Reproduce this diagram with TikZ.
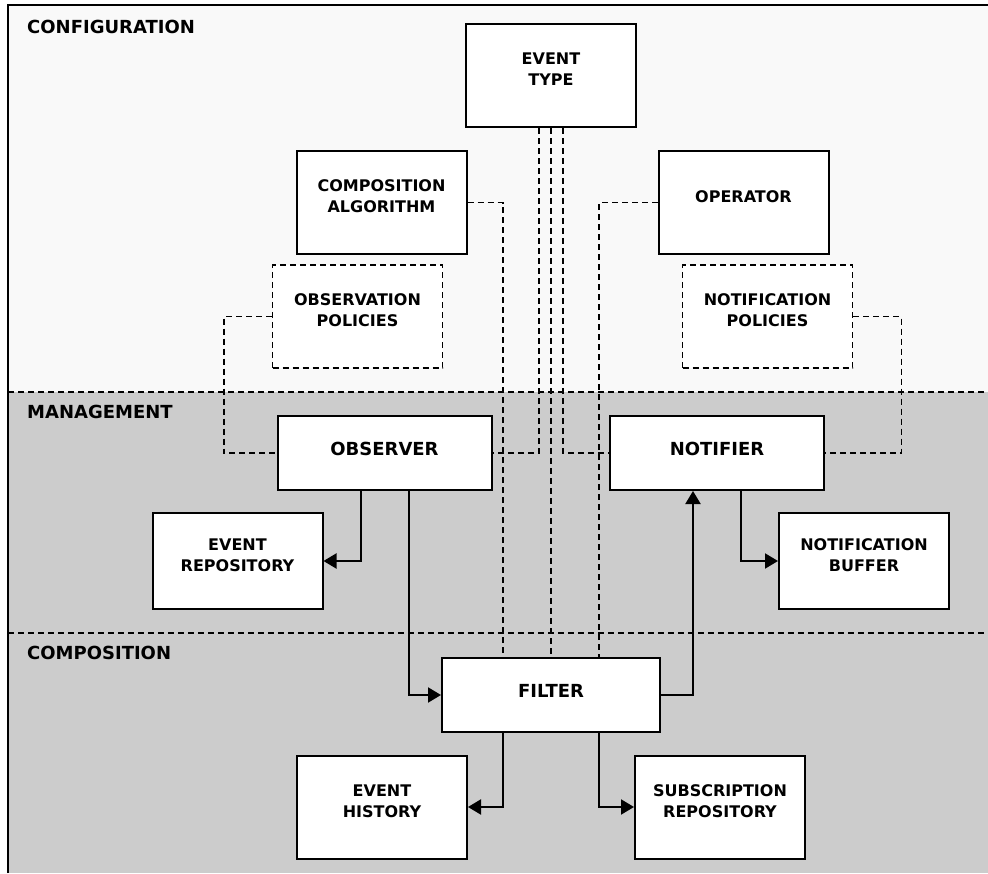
\documentclass[tikz,border=0pt]{standalone}
\usepackage{fontspec}
\setmainfont{DejaVu Sans}
\definecolor{cPane}{HTML}{F9F9F9}
\definecolor{cBand}{HTML}{CCCCCC}
\usetikzlibrary{positioning,arrows.meta,calc}

\begin{document}
\begin{tikzpicture}[x=1pt,y=-1pt,
      unit/.style={draw,fill=white,line width=2pt,minimum width=170pt,minimum height=103pt,
                   align=center,text depth=12pt,font=\fontsize{16}{21}\selectfont\bfseries},
      policy/.style={unit,line width=1.6pt,dash pattern=on 6pt off 4pt},
      core/.style={unit,minimum width=214pt,minimum height=74pt,text depth=9pt,
                   font=\fontsize{18}{22}\selectfont\bfseries},
      layer/.style={anchor=base west,inner sep=0pt,font=\fontsize{18}{22}\selectfont\bfseries},
      cfglink/.style={line width=1.6pt,dash pattern=on 6pt off 4pt},
      flow/.style={line width=2pt,-{Triangle[length=13pt,width=15pt]}}]
    \useasboundingbox (0,0) rectangle (988,873);
    % layer bands
    \fill[cPane] (8,5) rectangle (988,392);
    \fill[cBand] (8,392) rectangle (988,873);
    \draw[line width=2pt] (8,873) -- (8,5) -- (988,5);
    \foreach \y in {392,633}
      \draw[cfglink] (8,\y) -- (988,\y);
    \foreach \y/\t in {33/CONFIGURATION,418/MANAGEMENT,659/COMPOSITION}
      \node[layer] (lay\y) at (27,\y) {\t};
    % configuration
    \node[unit]   (evtype)   at (551,75.5)    {EVENT\\TYPE};
    \node[unit]   (compalg)  at (381.5,202.5) {COMPOSITION\\ALGORITHM};
    \node[unit]   (operator) at (743.5,202.5) {OPERATOR};
    \node[policy] (obspol)   at (357.5,316.5) {OBSERVATION\\POLICIES};
    \node[policy] (notpol)   at (767.5,316.5) {NOTIFICATION\\POLICIES};
    % management
    \node[core] (observer) at (384.5,453) {OBSERVER};
    \node[core] (notifier) at (717,453)   {NOTIFIER};
    \node[unit,minimum height=96pt] (evrepo) at (237.5,561) {EVENT\\REPOSITORY};
    \node[unit,minimum height=96pt] (notbuf) at (864,561)   {NOTIFICATION\\BUFFER};
    % composition
    \node[core,minimum width=218pt] (filter) at (551,695) {FILTER};
    \node[unit] (evhist)  at (382,807) {EVENT\\HISTORY};
    \node[unit] (subrepo) at (720,807) {SUBSCRIPTION\\REPOSITORY};
    % configuration links (dashed)
    \draw[cfglink] ([xshift=-12pt]evtype.south) |- (observer.east);
    \draw[cfglink] ([xshift=12pt]evtype.south) |- (notifier.west);
    \draw[cfglink] (evtype.south) -- (filter.north);
    \draw[cfglink] (compalg.east) -| ([xshift=-48pt]filter.north);
    \draw[cfglink] (operator.west) -| ([xshift=48pt]filter.north);
    \draw[cfglink] (obspol.west) -- ++(-48,0) |- (observer.west);
    \draw[cfglink] (notpol.east) -- ++(48,0) |- (notifier.east);
    % data flow
    \draw[flow] ([xshift=-24pt]observer.south) |- (evrepo.east);
    \draw[flow] ([xshift=24pt]observer.south) |- (filter.west);
    \draw[flow] (filter.east) -| ([xshift=-24pt]notifier.south);
    \draw[flow] ([xshift=24pt]notifier.south) |- (notbuf.west);
    \draw[flow] ([xshift=-48pt]filter.south) |- (evhist.east);
    \draw[flow] ([xshift=48pt]filter.south) |- (subrepo.west);
  \end{tikzpicture}
\end{document}
